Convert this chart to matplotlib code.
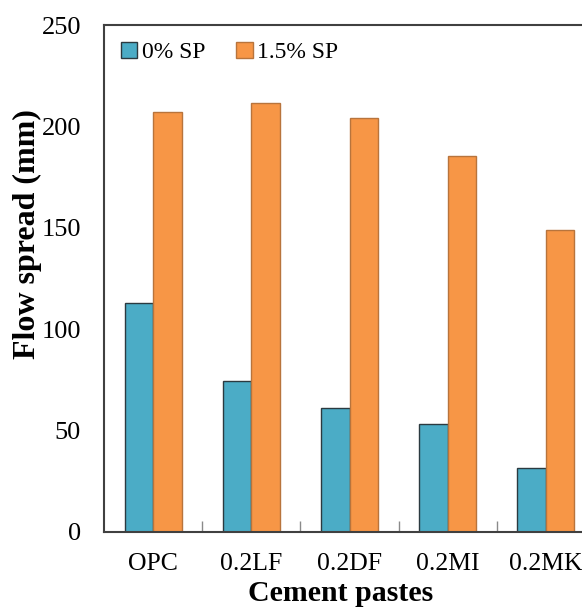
import matplotlib
matplotlib.use("Agg")
import matplotlib.pyplot as plt
import numpy as np

# === Data ===
pastes = ["OPC", "0.2LF", "0.2DF", "0.2MI", "0.2MK"]
spread_0sp = [113, 74.5, 61, 53.4, 31.4]
spread_15sp = [207, 211.7, 204, 185.2, 149]
series_names = ["0% SP", "1.5% SP"]

plt.rcParams["font.family"] = ["Liberation Serif", "DejaVu Serif"]

fig = plt.figure(figsize=(5.82, 6.09), dpi=100)
# axes run a bit past the right edge, like the cropped original
ax = fig.add_axes([104 / 582, 77 / 609, 491 / 582, 507 / 609])

x = np.arange(len(pastes))
w = 0.29
ax.bar(x - w / 2, spread_0sp, w, color="#4BACC6", edgecolor="#2b3a40",
       linewidth=1.0, label=series_names[0])
ax.bar(x + w / 2, spread_15sp, w, color="#F79646", edgecolor="#b8743c",
       linewidth=1.0, label=series_names[1])

ax.set_xlim(-0.5, len(pastes) - 0.5)
ax.set_ylim(0, 250)
ax.set_yticks([0, 50, 100, 150, 200, 250])
ax.set_xticks(x)
ax.set_xticklabels(pastes)
ax.set_xticks(np.arange(0.5, len(pastes) - 0.5, 1), minor=True)

ax.tick_params(axis="y", length=0, pad=16.5, labelsize=19)
ax.tick_params(axis="x", which="major", length=0, pad=15, labelsize=18.5)
ax.tick_params(axis="x", which="minor", direction="in", length=8,
               color="#8a8a8a", width=1)

for side in ["left", "top", "bottom", "right"]:
    ax.spines[side].set_color("#404040")
    ax.spines[side].set_linewidth(1.5)

ax.set_xlabel("Cement pastes", fontsize=21.5, fontweight="bold")
ax.set_ylabel("Flow spread (mm)", fontsize=23, fontweight="bold")
ax.xaxis.set_label_coords((341 - 104) / 491, -48 / 507)
ax.yaxis.set_label_coords((42 - 104) / 491, (532 - 234) / 507)

ax.legend(loc="upper left", ncol=2, frameon=False, fontsize=17,
          handlelength=0.7, handleheight=0.7, handletextpad=0.2,
          columnspacing=1.3, borderaxespad=0.3, bbox_to_anchor=(0.0, 1.0))

fig.savefig("out.png", dpi=100)
